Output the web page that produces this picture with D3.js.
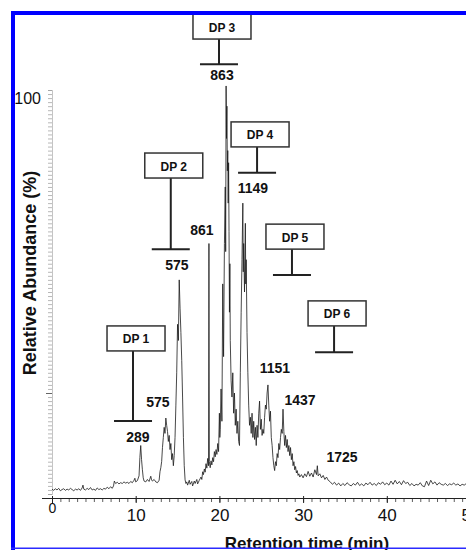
<!DOCTYPE html>
<html>
<head>
<meta charset="utf-8">
<script src="https://cdn.jsdelivr.net/npm/d3@7"></script>
<style>
  html, body { margin: 0; padding: 0; background: #fff; }
  svg { display: block; font-family: "Liberation Sans", Arial, sans-serif; }
</style>
</head>
<body>
<div id="chart"></div>
<script>
// Chromatogram trace: [retention time (min), relative abundance (%)]
const baselineEarly = [
  [0.0, 1.2], [0.2, 0.9], [0.4, 1.3], [0.6, 1.0], [0.8, 1.4], [1.0, 0.8], [1.2, 1.1], [1.4, 1.3],
  [1.6, 0.9], [1.8, 1.2], [2.0, 1.0], [2.2, 1.4], [2.4, 1.1], [2.6, 0.8], [2.8, 1.2], [3.0, 1.0],
  [3.2, 1.3], [3.4, 0.9], [3.6, 1.5], [3.7, 2.2], [3.8, 1.2], [4.0, 1.0], [4.2, 1.4], [4.4, 1.1],
  [4.6, 1.6], [4.8, 1.0], [5.0, 1.2], [5.2, 0.9], [5.4, 1.5], [5.6, 1.1], [5.8, 1.3], [6.0, 1.0],
  [6.2, 1.4], [6.4, 1.2], [6.6, 1.7], [6.8, 1.3], [7.0, 1.8], [7.2, 1.4], [7.35, 2.0]
];
const dp1Region = [
  [7.45, 3.2], [7.6, 2.6], [7.8, 2.9], [8.0, 2.5], [8.2, 2.8], [8.4, 2.6], [8.6, 3.0], [8.8, 2.7],
  [9.0, 2.9], [9.2, 2.6], [9.4, 3.1], [9.6, 2.8], [9.8, 3.4], [9.9, 3.9], [10.0, 3.0], [10.2, 3.3],
  [10.4, 4.5], [10.5, 9.0], [10.6, 12.0], [10.7, 8.5], [10.8, 6.0], [10.9, 4.0], [11.0, 3.2], [11.2, 3.0],
  [11.4, 3.6], [11.6, 3.1], [11.8, 4.4], [11.9, 3.5], [12.0, 3.2], [12.2, 3.6], [12.4, 3.0], [12.6, 2.8],
  [12.8, 3.4]
];
const dp2Region = [
  [12.9, 5.5], [13.0, 6.5], [13.1, 8.0], [13.2, 11.5], [13.3, 14.0], [13.4, 16.5], [13.5, 15.0], [13.6, 18.8],
  [13.7, 17.0], [13.8, 15.5], [13.9, 13.0], [14.0, 14.5], [14.1, 11.0], [14.2, 12.5], [14.3, 8.5], [14.4, 10.0],
  [14.5, 7.0], [14.6, 9.5], [14.7, 14.0], [14.8, 22.0], [14.9, 30.0], [15.0, 42.0], [15.1, 38.0], [15.2, 53.0],
  [15.3, 46.0], [15.4, 40.0], [15.5, 33.0], [15.6, 24.0], [15.7, 14.0], [15.8, 7.0], [15.9, 3.5], [16.0, 2.6]
];
const preDp3Region = [
  [16.1, 3.0], [16.2, 2.2], [16.4, 3.4], [16.5, 2.4], [16.7, 3.1], [16.8, 2.0], [17.0, 3.2], [17.1, 2.6],
  [17.3, 3.6], [17.4, 2.5], [17.6, 3.4], [17.8, 4.2], [17.9, 3.6], [18.0, 5.5], [18.1, 4.8], [18.2, 6.2],
  [18.3, 5.4], [18.4, 7.5], [18.5, 6.4], [18.6, 8.8], [18.7, 7.0], [18.75, 62.0], [18.8, 8.0], [18.9, 6.5],
  [19.0, 8.2], [19.1, 7.2], [19.2, 9.0], [19.3, 8.0], [19.4, 10.5], [19.5, 9.2], [19.6, 11.0], [19.7, 9.8],
  [19.8, 12.5], [19.9, 10.5], [20.0, 20.0], [20.05, 14.0]
];
const mainRegion = [
  [20.1, 16.0], [20.2, 26.0], [20.3, 18.0], [20.4, 52.0], [20.5, 34.0], [20.6, 62.0], [20.7, 76.0], [20.75, 60.0],
  [20.8, 101.0], [20.85, 88.0], [20.9, 96.0], [20.95, 80.0], [21.0, 85.0], [21.05, 72.0], [21.1, 82.0], [21.15, 65.0],
  [21.2, 45.0], [21.25, 57.0], [21.3, 38.0], [21.4, 28.0], [21.5, 24.0], [21.6, 30.0], [21.7, 20.0], [21.8, 25.0],
  [21.9, 17.0], [22.0, 21.0], [22.1, 15.0], [22.2, 18.0], [22.3, 13.0], [22.4, 12.0], [22.5, 30.0], [22.6, 45.0],
  [22.7, 58.0], [22.8, 72.0], [22.85, 55.0], [22.9, 62.0], [23.0, 50.0], [23.1, 67.0], [23.15, 52.0], [23.2, 58.0],
  [23.3, 40.0], [23.4, 30.0], [23.5, 22.0], [23.6, 17.0]
];
const lateRegion = [
  [23.7, 19.0], [23.8, 15.0], [23.9, 20.0], [24.0, 14.0], [24.1, 18.0], [24.2, 13.5], [24.3, 16.5], [24.4, 12.0],
  [24.5, 17.0], [24.6, 14.0], [24.7, 20.0], [24.8, 23.0], [24.9, 16.0], [25.0, 18.5], [25.1, 14.5], [25.2, 16.0],
  [25.3, 15.0], [25.4, 19.0], [25.5, 22.0], [25.6, 21.0], [25.7, 25.0], [25.8, 27.0], [25.9, 22.0], [26.0, 18.0],
  [26.1, 20.5], [26.2, 14.0], [26.3, 12.0], [26.4, 9.0], [26.5, 7.0], [26.6, 5.8], [26.7, 8.0], [26.8, 7.0],
  [26.9, 10.0], [27.0, 9.0], [27.1, 12.5], [27.2, 11.0], [27.3, 14.0], [27.4, 16.0], [27.5, 15.0], [27.6, 21.0],
  [27.7, 15.5], [27.8, 12.0], [27.9, 14.5], [28.0, 11.5], [28.1, 13.5], [28.2, 10.5], [28.3, 12.0], [28.4, 9.5],
  [28.5, 11.5], [28.6, 8.5], [28.7, 10.0], [28.8, 7.0], [28.9, 8.0], [29.0, 6.0], [29.1, 6.8], [29.2, 5.2],
  [29.3, 5.8], [29.4, 4.6], [29.5, 5.0], [29.6, 4.2]
];
const tailRegion = [
  [29.8, 4.8], [30.0, 4.0], [30.2, 5.0], [30.4, 4.3], [30.6, 5.6], [30.8, 4.4], [31.0, 5.2], [31.2, 4.2],
  [31.4, 6.0], [31.6, 4.8], [31.7, 7.0], [31.8, 4.5], [32.0, 5.0], [32.2, 4.0], [32.4, 4.6], [32.6, 3.6],
  [32.8, 4.2], [33.0, 3.4]
];
const baselineLate = [
  [33.25, 3.0], [33.5, 2.4], [33.75, 2.9], [34.0, 2.2], [34.25, 2.7], [34.5, 2.0], [34.75, 2.6], [35.0, 2.1],
  [35.25, 2.8], [35.5, 2.3], [35.75, 2.0], [36.0, 2.6], [36.25, 2.2], [36.5, 2.9], [36.75, 2.1], [37.0, 2.5],
  [37.25, 2.0], [37.5, 2.7], [37.75, 2.3], [38.0, 2.9], [38.25, 2.2], [38.5, 2.6], [38.75, 2.1], [39.0, 2.8],
  [39.25, 2.4], [39.5, 3.0], [39.75, 2.3], [40.0, 2.7], [40.25, 2.2], [40.5, 3.2], [40.75, 2.4], [41.0, 3.4],
  [41.25, 2.5], [41.5, 3.1], [41.75, 2.3], [42.0, 3.3], [42.25, 2.6], [42.5, 2.9], [42.75, 2.1], [43.0, 2.6],
  [43.25, 2.0], [43.5, 2.4], [43.75, 2.2], [44.0, 2.8], [44.25, 2.0], [44.5, 1.8], [44.75, 3.2], [45.0, 2.1],
  [45.25, 3.4], [45.5, 2.5], [45.75, 3.0], [46.0, 2.2], [46.25, 2.8], [46.5, 2.4], [46.75, 2.2], [47.0, 2.6],
  [47.25, 2.1], [47.5, 2.5], [47.75, 2.3], [48.0, 2.7], [48.25, 2.2], [48.5, 2.5], [48.75, 2.0], [49.0, 2.4],
  [49.25, 2.2], [49.5, 2.6], [49.75, 2.1], [50.0, 2.3]
];

// Peak m/z labels (label centre in time / abundance units)
const peakLabels = ["289", "575", "575", "861", "863", "1149", "1151", "1437", "1725"];
const peakLabelTime = [10.27, 12.66, 14.93, 17.92, 20.31, 24.0, 26.64, 29.63, 34.65];
const peakLabelValue = [14.1, 22.8, 56.7, 65.3, 103.7, 75.7, 31.2, 23.3, 9.2];

// Degree-of-polymerisation sign posts
const dpLabels = ["DP 1", "DP 2", "DP 3", "DP 4", "DP 5", "DP 6"];
const dpTime = [9.68, 14.19, 19.95, 24.5, 28.67, 33.7];
const dpBarValue = [18.1, 60.6, 106.4, 79.5, 54.2, 35.1];
const dpBoxTopValue = [41.6, 84.4, 118.8, 92.1, 66.8, 47.8];

const xTicks = [0, 10, 20, 30, 40, 50];

const width = 466, height = 550;
const trace = [].concat(baselineEarly, dp1Region, dp2Region, preDp3Region,
  mainRegion, lateRegion, tailRegion, baselineLate);

const svg = d3.select("#chart").append("svg")
  .attr("width", width)
  .attr("height", height);

const x = d3.scaleLinear().domain([0, 50]).range([52, 470.5]);
const y = d3.scaleLinear().domain([0, 100]).range([494, 90]);

// y axis: dense minor ticks
const yAxis = svg.append("g")
  .attr("transform", `translate(${x(0)},0)`)
  .call(d3.axisLeft(y).tickValues(d3.range(0, 101, 1)).tickSize(4).tickFormat(""));
yAxis.select(".domain").attr("stroke", "#888").attr("stroke-width", 0.5);
yAxis.selectAll(".tick line")
  .attr("stroke", d => d === 25 ? "#222" : "#999")
  .attr("stroke-width", 0.7)
  .attr("x2", d => d === 25 ? -6 : -4);

svg.append("text")
  .attr("x", 41).attr("y", y(100) + 8)
  .attr("text-anchor", "end")
  .attr("dominant-baseline", "central")
  .attr("font-size", "16px")
  .attr("fill", "#111")
  .text("100");

// x axis: major + minor ticks
const xMinor = svg.append("g")
  .attr("transform", `translate(0,${498})`)
  .call(d3.axisBottom(x).tickValues(d3.range(0, 51, 1)).tickSize(4).tickFormat(""));
xMinor.select(".domain").remove();
xMinor.selectAll(".tick line").attr("stroke", "#333").attr("stroke-width", 0.8);

const xAxis = svg.append("g")
  .attr("transform", `translate(0,${498})`)
  .call(d3.axisBottom(x).tickValues(xTicks).tickSize(5).tickPadding(6).tickSizeOuter(0));
xAxis.select(".domain").attr("stroke", "#222").attr("d", `M42,0.5H${width}`);
xAxis.selectAll(".tick line").attr("stroke", "#222").attr("y1", -2);
xAxis.selectAll(".tick text")
  .attr("font-family", "Liberation Sans, Arial, sans-serif")
  .attr("font-size", d => d === 0 ? "14px" : "17px")
  .attr("dy", d => d === 0 ? "0.3em" : "0.71em")
  .attr("fill", "#111");

// chromatogram trace
svg.append("path")
  .datum(trace)
  .attr("fill", "none")
  .attr("stroke", "#1a1a1a")
  .attr("stroke-width", 0.8)
  .attr("stroke-linejoin", "miter")
  .attr("d", d3.line().x(d => x(d[0])).y(d => y(d[1])));

// DP sign posts
const boxW = 58, boxH = 25, barW = 38;
dpLabels.forEach((label, i) => {
  const sx = x(dpTime[i]);
  const top = y(dpBoxTopValue[i]);
  const barY = y(dpBarValue[i]);
  const g = svg.append("g");
  g.append("line")
    .attr("x1", sx).attr("x2", sx)
    .attr("y1", top + boxH).attr("y2", barY)
    .attr("stroke", "#222").attr("stroke-width", 2);
  g.append("line")
    .attr("x1", sx - barW / 2).attr("x2", sx + barW / 2)
    .attr("y1", barY).attr("y2", barY)
    .attr("stroke", "#222").attr("stroke-width", 2);
  g.append("rect")
    .attr("x", sx + 3 - boxW / 2).attr("y", top)
    .attr("width", boxW).attr("height", boxH)
    .attr("fill", "#fff")
    .attr("stroke", "#333").attr("stroke-width", 1.5);
  g.append("text")
    .attr("x", sx + 3).attr("y", top + boxH / 2 + 1)
    .attr("text-anchor", "middle")
    .attr("dominant-baseline", "central")
    .attr("font-size", "12px")
    .attr("font-weight", "bold")
    .attr("fill", "#111")
    .text(label);
});

// peak labels
svg.append("g").selectAll("text")
  .data(peakLabels)
  .join("text")
  .attr("x", (d, i) => x(peakLabelTime[i]))
  .attr("y", (d, i) => y(peakLabelValue[i]))
  .attr("text-anchor", "middle")
  .attr("dominant-baseline", "central")
  .attr("font-size", "14px")
  .attr("font-weight", "bold")
  .attr("fill", "#111")
  .text(d => d);

// axis titles
svg.append("text")
  .attr("transform", "translate(30,273) rotate(-90)")
  .attr("text-anchor", "middle")
  .attr("dominant-baseline", "central")
  .attr("font-size", "18px")
  .attr("font-weight", "bold")
  .attr("fill", "#111")
  .text("Relative Abundance (%)");

svg.append("text")
  .attr("x", 307).attr("y", 549)
  .attr("text-anchor", "middle")
  .attr("font-size", "17px")
  .attr("font-weight", "bold")
  .attr("fill", "#111")
  .text("Retention time (min)");

// blue frame
svg.append("rect").attr("x", 11).attr("y", 11).attr("width", 4).attr("height", height - 11).attr("fill", "#0000ff");
svg.append("rect").attr("x", 11).attr("y", 11).attr("width", width - 11).attr("height", 4).attr("fill", "#0000ff");
svg.append("rect").attr("x", 11).attr("y", 547.5).attr("width", width - 11).attr("height", 1.5).attr("fill", "#2b2bff");
</script>
</body>
</html>
